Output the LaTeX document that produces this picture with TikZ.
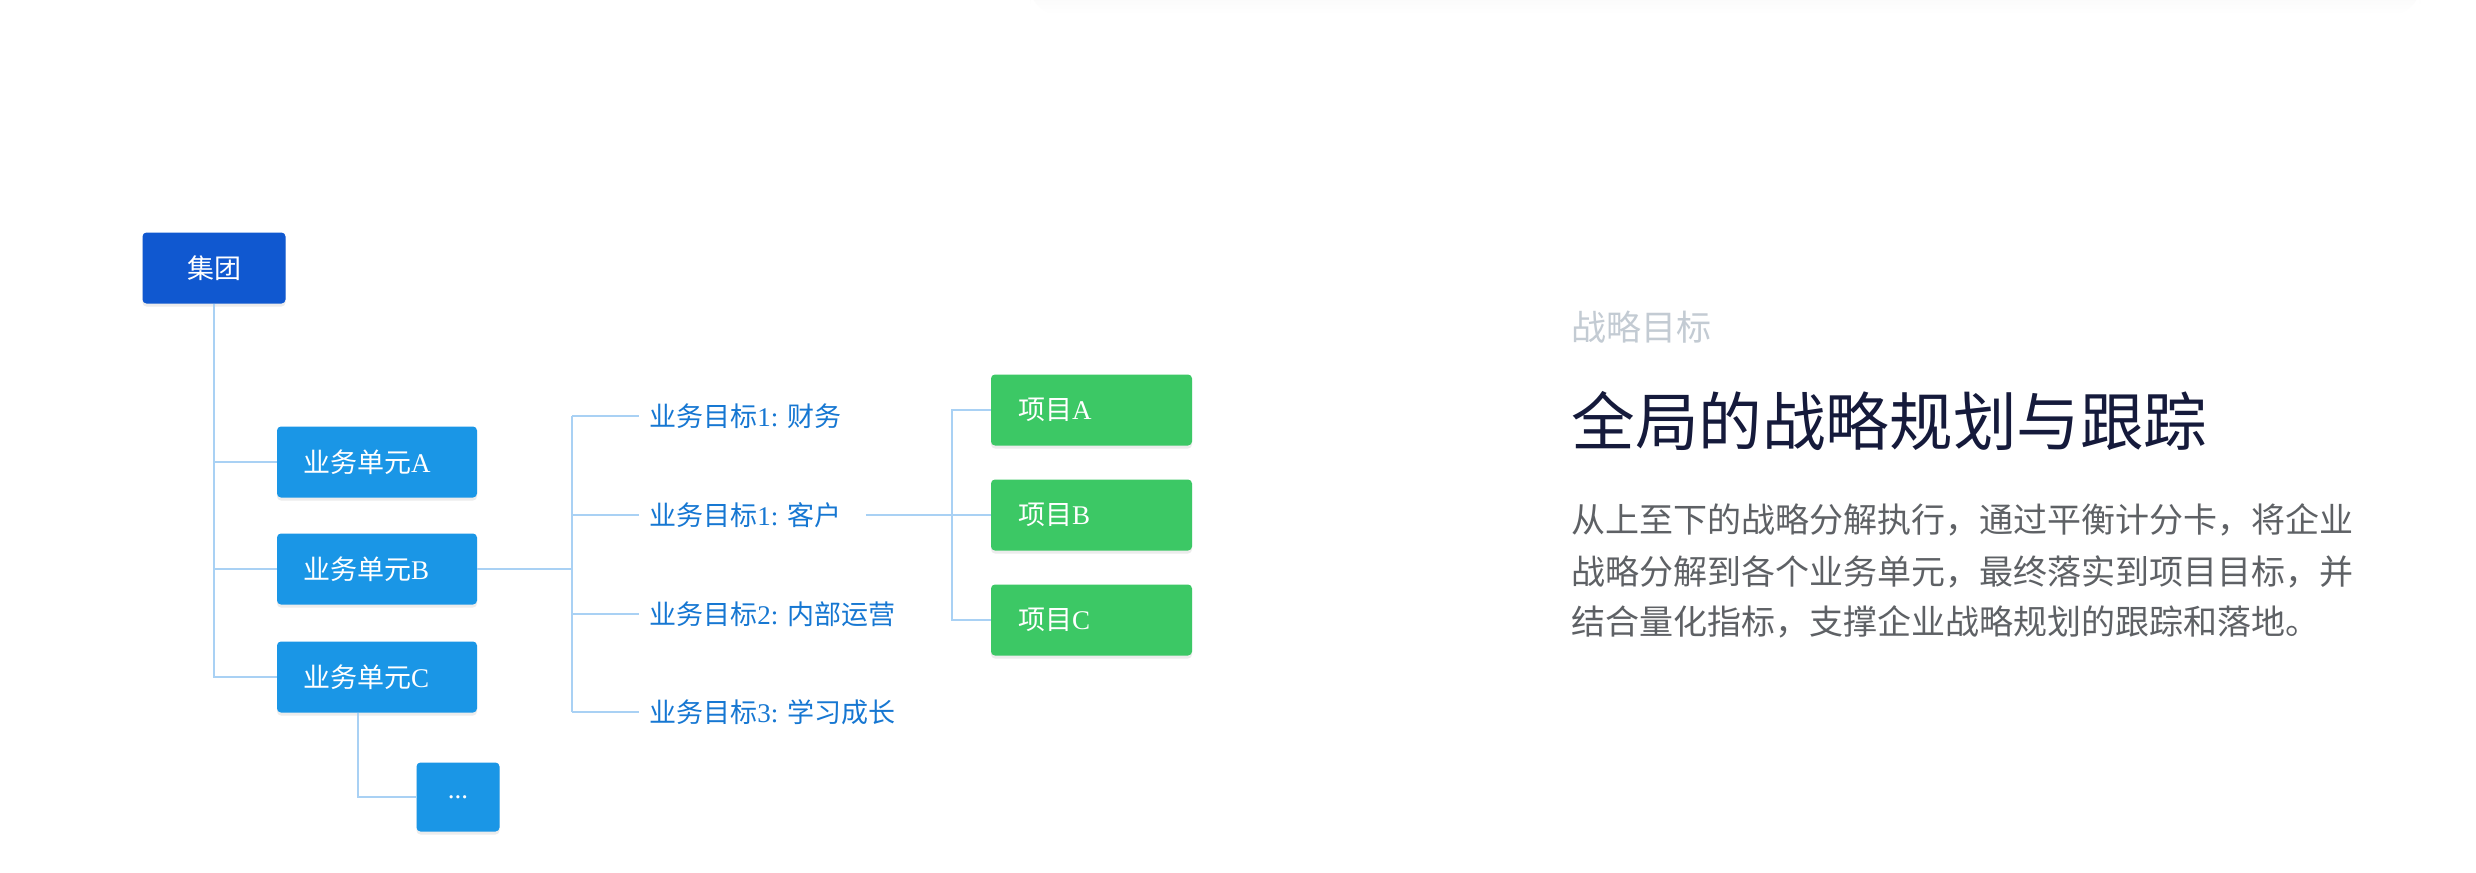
\documentclass[tikz,border=0pt]{standalone}
\usepackage{fontspec}
\setmainfont{Liberation Serif}
\newfontfamily\cjk{Noto Sans CJK SC}
\usetikzlibrary{shadows}
\definecolor{jtblue}{HTML}{1058D0}
\definecolor{unitblue}{HTML}{1A96E6}
\definecolor{projgreen}{HTML}{3CC865}
\definecolor{linkblue}{HTML}{A9D1F4}
\definecolor{goaltext}{HTML}{1677D2}
\definecolor{subgray}{HTML}{C3CBD3}
\definecolor{titlenavy}{HTML}{151A3B}
\definecolor{bodygray}{HTML}{5E6165}
\newcommand{\dn}[1]{\raisebox{-1.2pt}{#1}}
\begin{document}
\begin{tikzpicture}[x=0.5pt,y=-0.5pt,
  box/.style={rounded corners=2pt, text=white, inner ysep=0pt,
    font=\fontsize{13.5}{16}\selectfont,
    drop shadow={opacity=0.15, shadow xshift=0pt, shadow yshift=-1.5pt}},
  topbox/.style={box, fill=jtblue, minimum width=71.5pt, minimum height=35.5pt, inner xsep=0pt},
  unitbox/.style={box, fill=unitblue, minimum height=35.5pt, text width=74pt, inner xsep=13pt, align=left},
  dotbox/.style={box, fill=unitblue, minimum width=41.5pt, minimum height=34.5pt, inner xsep=0pt},
  projbox/.style={box, fill=projgreen, minimum height=35.5pt, text width=73.5pt, inner xsep=13.5pt, align=left},
  goal/.style={anchor=west, inner sep=0pt, text=goaltext, font=\fontsize{13.5}{16}\selectfont},
  link/.style={draw=linkblue, line width=1pt},
  plain/.style={anchor=west, inner sep=0pt}]
\fill[white] (0,0) rectangle (2476,872);
\useasboundingbox (0,0) rectangle (2476,872);
% faint top shadow
\shade[top color=black!4, bottom color=white, rounded corners=14pt] (1030,-24) rectangle (2420,14);
% left tree
\node[topbox] (jt) at (214,268) {\dn{\cjk 集团}};
\node[unitbox] (A) at (377,462) {\dn{{\cjk 业务单元}A}};
\node[unitbox] (B) at (377,569) {\dn{{\cjk 业务单元}B}};
\node[unitbox] (C) at (377,677) {\dn{{\cjk 业务单元}C}};
\node[dotbox] (D) at (458,797) {...};
\draw[link] (jt.south) -- (jt.south |- C.west) -- (C.west);
\draw[link] (jt.south |- A.west) -- (A.west);
\draw[link] (jt.south |- B.west) -- (B.west);
\coordinate (cd) at (358,677);
\draw[link] (cd |- C.south) -- (cd |- D.west) -- (D.west);
% goals
\node[goal] (g1) at (649,416) {{\cjk 业务目标}1: {\cjk 财务}};
\node[goal] (g2) at (649,515) {{\cjk 业务目标}1: {\cjk 客户}};
\node[goal] (g3) at (649,614) {{\cjk 业务目标}2: {\cjk 内部运营}};
\node[goal] (g4) at (649,712) {{\cjk 业务目标}3: {\cjk 学习成长}};
\coordinate (gb) at (572,569);
\draw[link] (B.east) -- (gb);
\draw[link] (gb |- g1.west) -- (gb |- g4.west);
\foreach \g in {g1,g2,g3,g4}{
  \draw[link] (gb |- \g.west) -- ([xshift=-5pt]\g.west);
}
% projects
\node[projbox] (pA) at (1091.5,410) {\dn{{\cjk 项目}A}};
\node[projbox] (pB) at (1091.5,515) {\dn{{\cjk 项目}B}};
\node[projbox] (pC) at (1091.5,620) {\dn{{\cjk 项目}C}};
\coordinate (pb) at (952,515);
\draw[link] ([xshift=12pt]g2.east) -- (pB.west);
\draw[link] (pA.west) -- (pb |- pA.west) -- (pb |- pC.west) -- (pC.west);
% right text
\node[plain, text=subgray, font=\cjk\fontsize{17.5}{20}\selectfont] (sub) at (1571,327) {战略目标};
\node[plain, text=titlenavy, font=\cjk\fontsize{31.8}{36}\selectfont] (title) at (1571,421) {全局的战略规划与跟踪};
\node[plain, text=bodygray, font=\cjk\fontsize{17}{20}\selectfont] (p1) at (1571,520) {从上至下的战略分解执行，通过平衡计分卡，将企业};
\node[plain, text=bodygray, font=\cjk\fontsize{17}{20}\selectfont] (p2) at (1571,572) {战略分解到各个业务单元，最终落实到项目目标，并};
\node[plain, text=bodygray, font=\cjk\fontsize{17}{20}\selectfont] (p3) at (1571,622) {结合量化指标，支撑企业战略规划的跟踪和落地。};
\end{tikzpicture}
\end{document}
